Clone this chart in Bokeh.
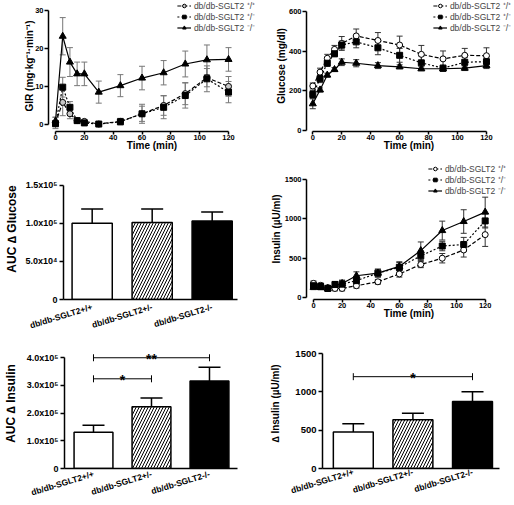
from bokeh.plotting import figure
from bokeh.layouts import column, row
from bokeh.models import (ColumnDataSource, Whisker, TeeHead, FixedTicker, Range1d,
                          Legend, LegendItem, Label)
from bokeh.embed import file_html
from bokeh.resources import INLINE
from bokeh.core.properties import value

FONT = "Liberation Sans"

# ---------------- data ----------------
time_min = [0, 5, 10, 15, 20, 30, 45, 60, 75, 90, 105, 120]
time_ticks = [0, 20, 40, 60, 80, 100, 120]
legend_names = ["db/db-SGLT2 \u207a/\u207a", "db/db-SGLT2 \u207a/\u207b", "db/db-SGLT2 \u207b/\u207b"]
bar_groups = ["db/db-SGLT2+/+", "db/db-SGLT2+/-", "db/db-SGLT2-/-"]

# A: glucose infusion rate
gir_wt = [0.5, 5.9, 2.9, 1.1, 0.9, 0.2, 0.9, 2.9, 5.1, 8.2, 12.4, 10.1]
gir_wt_sem = [1.5, 3.5, 1.3, 0.6, 0.5, 0.3, 0.8, 2.5, 2.6, 2.9, 2.4, 2.6]
gir_het = [0.3, 9.9, 4.6, 1.1, 0.5, 0.2, 0.8, 2.9, 4.6, 7.7, 12.1, 8.6]
gir_het_sem = [0.8, 2.6, 1.5, 0.5, 0.4, 0.2, 0.8, 2.0, 3.0, 3.3, 3.4, 2.8]
gir_ko = [1.0, 23.3, 16.5, 13.4, 13.4, 8.6, 10.3, 12.3, 13.7, 16.0, 17.1, 17.2]
gir_ko_sem = [1.0, 4.9, 3.8, 3.1, 3.1, 2.9, 2.9, 3.1, 3.2, 3.4, 3.9, 3.1]

# B: glucose
glu_wt = [225, 295, 365, 410, 440, 478, 455, 432, 385, 362, 380, 378]
glu_wt_sem = [15, 20, 20, 20, 35, 35, 40, 45, 45, 40, 35, 40]
glu_het = [182, 262, 340, 388, 432, 448, 418, 380, 342, 315, 345, 348]
glu_het_sem = [20, 20, 15, 15, 20, 30, 35, 35, 35, 15, 25, 25]
glu_ko = [135, 205, 280, 308, 345, 340, 328, 322, 312, 312, 315, 328]
glu_ko_sem = [25, 10, 10, 10, 17, 18, 15, 10, 10, 10, 12, 15]

# D: insulin
ins_wt = [180, 155, 125, 115, 115, 150, 200, 300, 420, 500, 605, 800]
ins_wt_sem = [30, 30, 30, 30, 30, 30, 30, 40, 40, 60, 90, 150]
ins_het = [150, 140, 115, 165, 170, 215, 310, 385, 530, 655, 675, 975]
ins_het_sem = [40, 30, 30, 40, 50, 50, 50, 70, 60, 60, 90, 90]
ins_ko = [130, 128, 115, 158, 179, 277, 311, 396, 597, 852, 967, 1087]
ins_ko_sem = [30, 30, 30, 40, 40, 50, 50, 50, 110, 120, 150, 190]

# C: AUC delta glucose
auc_glu = [100000, 101000, 103000]
auc_glu_sem = [19000, 18000, 12000]
# E: AUC delta insulin
auc_ins = [131000, 223000, 316000]
auc_ins_sem = [25000, 32000, 50000]
# F: delta insulin
d_ins = [478, 636, 875]
d_ins_sem = [106, 85, 127]

# significance brackets: (from group, to group, height, mark)
e_brackets = [(0, 2, 400000, "**"), (0, 1, 324000, "*")]
f_brackets = [(0, 2, 1200, "*")]

c_ticks = [0, 50000, 100000, 150000]
c_tick_labels = ["0", "5.0x10\u2074", "1.0x10\u2075", "1.5x10\u2075"]
e_ticks = [0, 100000, 200000, 300000, 400000]
e_tick_labels = ["0", "1.0x10\u2075", "2.0x10\u2075", "3.0x10\u2075", "4.0x10\u2075"]
f_ticks = [0, 500, 1000, 1500]
f_tick_labels = ["0", "500", "1000", "1500"]


def make_fig(height, borders, xr, yr):
    l, r, t, b = borders
    p = figure(width=257, height=height, x_range=Range1d(*xr), y_range=Range1d(*yr),
               output_backend="svg", toolbar_location=None,
               min_border_left=l, min_border_right=r, min_border_top=t, min_border_bottom=b)
    p.outline_line_color = None
    p.grid.visible = False
    return p


def style_axes(p, tick_size, title_size):
    for ax in p.axis:
        ax.axis_line_width = 1.5
        ax.axis_line_color = "black"
        ax.major_tick_line_width = 1.5
        ax.major_tick_line_color = "black"
        ax.major_tick_in = 0
        ax.minor_tick_line_color = None
        ax.major_label_text_font = FONT
        ax.major_label_text_font_style = "bold"
        ax.major_label_text_font_size = tick_size
        ax.major_label_text_color = "black"
        ax.axis_label_text_font = FONT
        ax.axis_label_text_font_style = "bold"
        ax.axis_label_text_font_size = title_size
        ax.axis_label_text_color = "black"


def add_letter(p, letter, x, y):
    p.add_layout(Label(x=x, y=y, x_units="screen", y_units="screen", text=letter,
                       text_font=FONT, text_font_style="bold", text_font_size="14px",
                       text_baseline="top", text_align="left"))


def ts_panel(height, borders, xr, yr, yticks, ylabel, series, legend_margin, letter, letter_xy,
             ylabel_standoff, err_color, circ_fill):
    p = make_fig(height, borders, xr, yr)
    style_axes(p, "7.5px", "10px")
    p.xaxis.ticker = FixedTicker(ticks=time_ticks)
    p.xaxis.bounds = (time_ticks[0], time_ticks[-1])
    p.yaxis.ticker = FixedTicker(ticks=yticks)
    p.yaxis.bounds = (yticks[0], yticks[-1])
    p.xaxis.axis_label = "Time (min)"
    p.yaxis.axis_label = ylabel
    p.xaxis.major_tick_out = 3
    p.yaxis.major_tick_out = 4
    p.xaxis.major_label_standoff = 0
    p.yaxis.major_label_standoff = 1
    p.xaxis.axis_label_standoff = -3
    p.yaxis.axis_label_standoff = ylabel_standoff
    styles = [("circle", "4 2", circ_fill, 6), ("square", "2 2", "black", 6),
              ("triangle", "solid", "black", 7)]
    items = []
    for (name, ys, es), (marker, dash, fill, size) in zip(series, styles):
        src = ColumnDataSource(dict(t=time_min, y=ys,
                                    lo=[a - e for a, e in zip(ys, es)],
                                    hi=[a + e for a, e in zip(ys, es)]))
        w = Whisker(source=src, base="t", lower="lo", upper="hi", line_color=err_color,
                    line_width=1,
                    upper_head=TeeHead(size=6, line_color=err_color, line_width=1),
                    lower_head=TeeHead(size=6, line_color=err_color, line_width=1))
        p.add_layout(w)
        lr = p.line("t", "y", source=src, line_color="black", line_width=1.2, line_dash=dash)
        sr = p.scatter("t", "y", source=src, marker=marker, size=size, fill_color=fill,
                       line_color="black", line_width=1)
        items.append(LegendItem(label=name, renderers=[lr, sr]))
    leg = Legend(items=items, location="top_right", glyph_width=14, glyph_height=9,
                 label_height=9, spacing=-2, padding=0, margin=legend_margin, label_standoff=3,
                 border_line_color=None, background_fill_alpha=0,
                 label_text_font=FONT, label_text_font_size="8.5px")
    p.add_layout(leg)
    add_letter(p, letter, *letter_xy)
    return p


def bar_panel(height, borders, xr, yr, yticks, ytick_labels, ylabel, vals, sems, brackets,
              letter, letter_xy, tick_size, title_size, ylabel_standoff, xlabel_standoff):
    p = make_fig(height, borders, xr, yr)
    style_axes(p, tick_size, title_size)
    src = ColumnDataSource(dict(x=[0, 1, 2], top=vals,
                                up=[v + s for v, s in zip(vals, sems)],
                                fill=["white", "white", "black"],
                                hatch=[" ", "/", " "]))
    p.vbar(x="x", top="top", bottom=0, width=0.67, source=src, fill_color="fill",
           hatch_pattern="hatch", hatch_color="black", hatch_scale=6, hatch_weight=1,
           line_color="black", line_width=1.5)
    p.add_layout(Whisker(source=src, base="x", lower="top", upper="up", line_width=1.5,
                         line_color="black",
                         upper_head=TeeHead(size=22, line_width=1.5, line_color="black"),
                         lower_head=None))
    if brackets:
        bsrc = ColumnDataSource(dict(x0=[b[0] for b in brackets], x1=[b[1] for b in brackets],
                                     y=[b[2] for b in brackets],
                                     xm=[(b[0] + b[1]) / 2 for b in brackets],
                                     mark=[b[3] for b in brackets]))
        p.add_layout(Whisker(source=bsrc, dimension="width", base="y", lower="x0", upper="x1",
                             line_width=1, line_color="black",
                             upper_head=TeeHead(size=7, line_width=1, line_color="black"),
                             lower_head=TeeHead(size=7, line_width=1, line_color="black")))
        p.text(x="xm", y="y", text="mark", source=bsrc, text_align="center",
               text_baseline="alphabetic", y_offset=1, text_font=value(FONT),
               text_font_style="bold", text_font_size="14px", text_color="black")
    p.xaxis.ticker = FixedTicker(ticks=[0, 1, 2])
    p.xaxis.major_label_overrides = {i: g for i, g in enumerate(bar_groups)}
    p.xaxis.major_tick_out = 0
    p.xaxis.major_label_orientation = 0.3
    p.xaxis.major_label_text_font_size = "8.5px"
    p.xaxis.major_label_standoff = xlabel_standoff
    p.yaxis.ticker = FixedTicker(ticks=yticks)
    p.yaxis.bounds = (yticks[0], yticks[-1])
    p.yaxis.major_label_overrides = {t: s for t, s in zip(yticks, ytick_labels)}
    p.yaxis.major_tick_out = 4
    p.yaxis.major_label_standoff = 2
    p.yaxis.axis_label = ylabel
    p.yaxis.axis_label_standoff = ylabel_standoff
    add_letter(p, letter, *letter_xy)
    return p


# row 1: frames from y=0 to y=131
pA = ts_panel(158, (48, 2, 0, 27), (-4.86, 138.7), (-1.76, 32.7), [0, 10, 20, 30],
              "GIR (mg\u00b7kg\u207b\u00b9\u00b7min\u207b\u00b9)",
              [(legend_names[0], gir_wt, gir_wt_sem), (legend_names[1], gir_het, gir_het_sem),
               (legend_names[2], gir_ko, gir_ko_sem)],
              0, "A", (-46, 128), -3, "#777777", "#c8c8c8")

pB = ts_panel(158, (49, 3, 0, 27), (-4.35, 137.3), (-5.1, 657.1), [0, 200, 400, 600],
              "Glucose (mg/dl)",
              [(legend_names[0], glu_wt, glu_wt_sem), (legend_names[1], glu_het, glu_het_sem),
               (legend_names[2], glu_ko, glu_ko_sem)],
              0, "B", (-37, 128), -1, "#333333", "white")

# row 2: frames from y=158 to y=300
pC = bar_panel(180, (63, 20, 0, 38), (-0.478, 2.422), (0, 185217), c_ticks, c_tick_labels,
               "AUC \u2206 Glucose", auc_glu, auc_glu_sem, [], "C", (-61, 137),
               "9px", "12px", 4, 7)

pD = ts_panel(180, (49, 3, 0, 38), (-4.89, 138.4), (-25.3, 1769), [0, 500, 1000, 1500],
              "Insulin (\u00b5U/ml)",
              [(legend_names[0], ins_wt, ins_wt_sem), (legend_names[1], ins_het, ins_het_sem),
               (legend_names[2], ins_ko, ins_ko_sem)],
              5, "D", (-47, 137), 0, "#333333", "white")

# row 3: frames from y=338 to y=471
pE = bar_panel(167, (61, 20, 0, 34), (-0.5, 2.483), (0, 469550), e_ticks, e_tick_labels,
               "AUC \u2206 Insulin", auc_ins, auc_ins_sem, e_brackets, "E", (-59, 121),
               "9px", "12px", 6, 5)

pF = bar_panel(167, (65, 15, 0, 34), (-0.517, 2.453), (0, 1699), f_ticks, f_tick_labels,
               "\u2206 Insulin (\u00b5U/ml)", d_ins, d_ins_sem, f_brackets, "F", (-54, 124),
               "9.5px", "10px", 11, 3)

layout = column(row(pA, pB), row(pC, pD), row(pE, pF))

open("out.html", "w").write(file_html(layout, INLINE))
